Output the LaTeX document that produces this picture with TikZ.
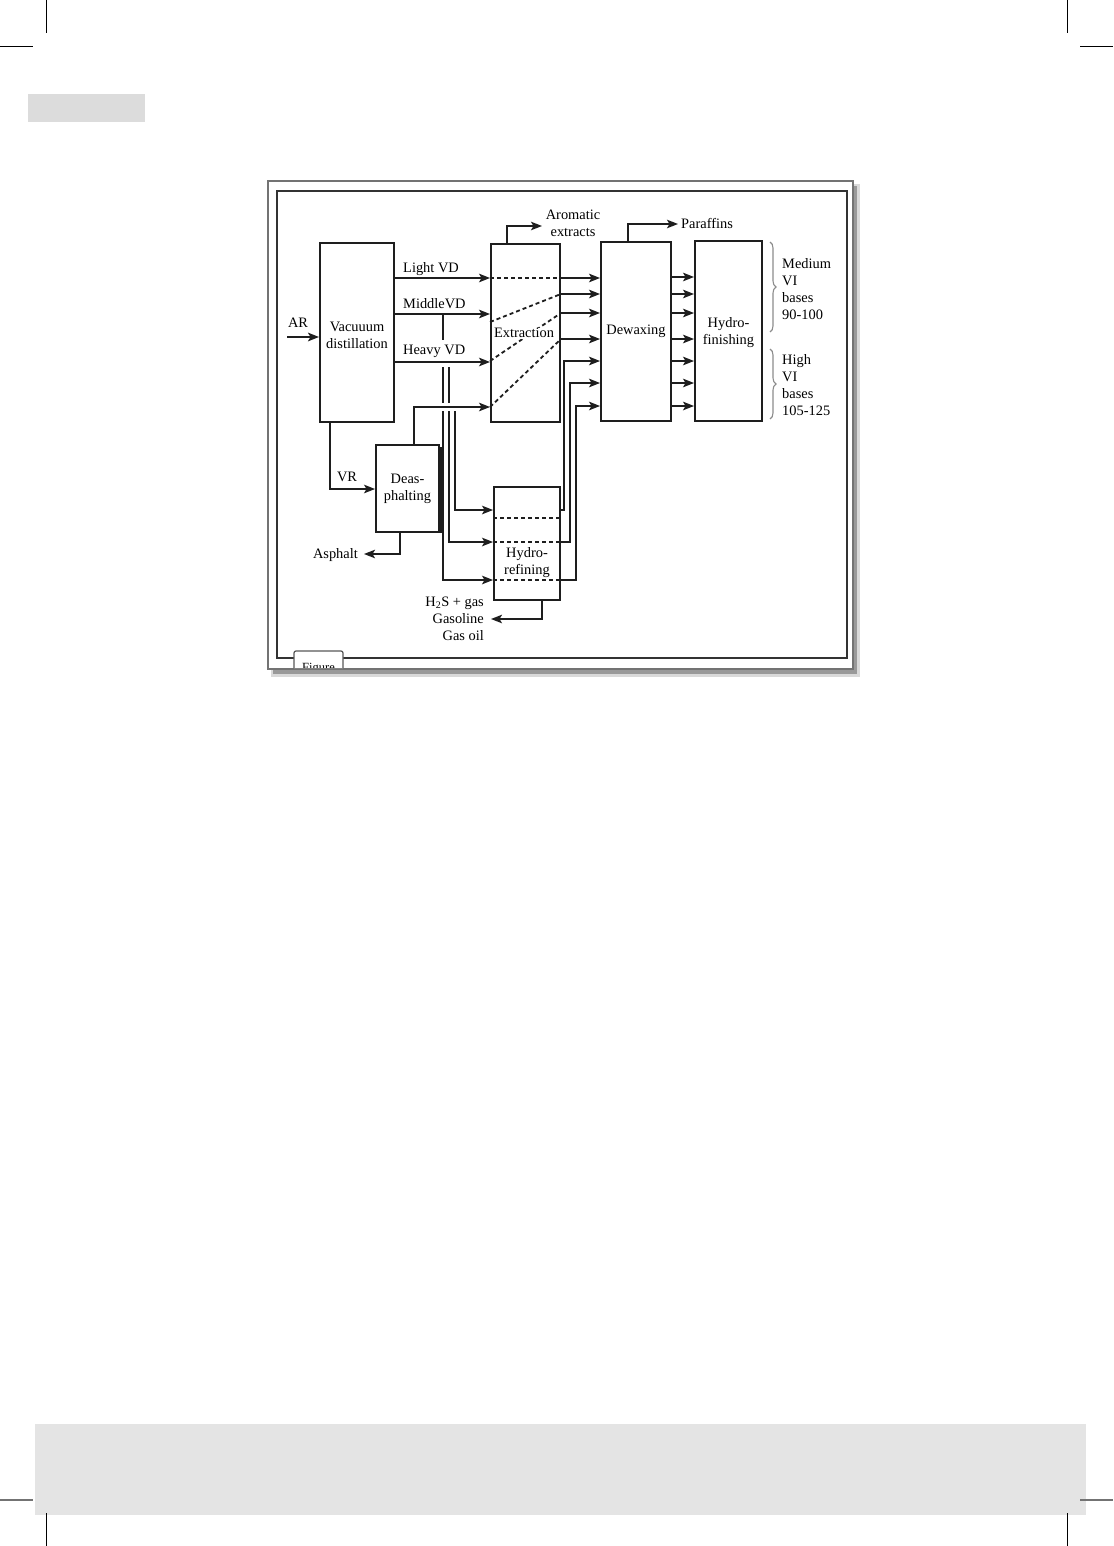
\documentclass[tikz,border=0pt]{standalone}
\usepackage{fontspec}
\setmainfont{Liberation Serif}
\usetikzlibrary{arrows.meta,decorations.pathreplacing,calc}
\newcommand\diagfont{\fontsize{14.4}{17}\selectfont}
\definecolor{topgray}{HTML}{DCDCDC}
\definecolor{bandgray}{HTML}{E4E4E4}
\definecolor{ink}{HTML}{1E1E1E}
\begin{document}
\begin{tikzpicture}[x=1pt,y=-1pt,
  box/.style={draw=ink, line width=1.9pt, fill=white, inner sep=0pt, align=center, font=\diagfont},
  arr/.style={line width=1.8pt, draw=ink, -{Stealth[length=11pt,width=8.5pt,inset=2.5pt]}},
  ln/.style={line width=1.8pt, draw=ink},
  dsh/.style={line width=1.8pt, draw=ink, dash pattern=on 4pt off 3pt},
  lbl/.style={font=\diagfont, inner sep=0pt, text height=9pt, text depth=0pt},
  mlbl/.style={font=\diagfont, inner sep=0pt},
  brc/.style={draw=black!45, line width=1.1pt, decorate, decoration={brace, amplitude=6pt}},
  crop/.style={draw=black, line width=0.9pt}
]
\useasboundingbox (0,0) rectangle (1113,1546);
\fill[white] (0,0) rectangle (1113,1546);
% page furniture
\fill[topgray] (28,94) rectangle (145,122);
\fill[bandgray] (35,1424) rectangle (1086,1515);
\draw[crop] (46,0) -- (46,33);
\draw[crop] (0,46) -- (33,46);
\draw[crop] (1067,0) -- (1067,33);
\draw[crop] (1080,46) -- (1113,46);
\draw[crop, draw=black!55, line width=1.6pt] (0,1500) -- (33,1500);
\draw[crop, draw=black!55, line width=1.6pt] (1080,1500) -- (1113,1500);
\draw[crop] (46,1513) -- (46,1546);
\draw[crop] (1067,1513) -- (1067,1546);
% frame with shadow
\fill[black!15] (271,184) rectangle (860,677);
\fill[black!40] (273,186) rectangle (857,674);
\draw[draw=black!55, line width=1.8pt, fill=white] (268,181) rectangle (853,669);
\draw[draw=black!80, line width=1.3pt] (277,191) rectangle (847,658);
\draw[draw=black!65, line width=1.2pt, fill=white, rounded corners=2pt] (294,668) -- (294,651) -- (343,651) -- (343,668);
\begin{scope}
\clip (295,652) rectangle (342,667.5);
\node[font=\fontsize{12.5}{14}\selectfont, inner sep=0pt, anchor=base] (fig) at (318.5,671) {Figure};
\end{scope}

% boxes
\node[box, minimum width=74pt, minimum height=179pt] (vd) at (357,332.5) {};
\node[mlbl, align=center] (vdt) at (357,335) {Vacuuum\\distillation};
\node[box, minimum width=69pt, minimum height=178pt] (ex) at (525.5,333) {};
\node[box, minimum width=70pt, minimum height=179pt] (dw) at (636,331.5) {Dewaxing};
\node[box, minimum width=67pt, minimum height=180pt] (hf) at (728.5,331) {};
\node[mlbl, align=center] (hft) at (728.5,333) {Hydro-\\finishing};
\node[box, minimum width=63pt, minimum height=87pt] (da) at (407.5,488.5) {};
\node[mlbl, align=center] (dat) at (407.5,489) {Deas-\\phalting};
\draw[line width=1.4pt, draw=ink] (440.8,447) -- (440.8,533);
\node[box, minimum width=66pt, minimum height=113pt] (hr) at (527,543.5) {};

% labels
\node[lbl] (ar) at (298,323) {AR};
\node[lbl, anchor=west] (lvd) at (403,268) {Light VD};
\node[lbl, anchor=west] (mvd) at (403,304) {MiddleVD};
\node[lbl, anchor=west] (hvd) at (403,350) {Heavy VD};
\node[lbl] (vr) at (347,477) {VR};
\node[lbl, anchor=east] (asph) at (358,554) {Asphalt};
\node[mlbl, align=center] (arom) at (573,223) {Aromatic\\extracts};
\node[lbl, anchor=west] (par) at (681,224) {Paraffins};
\node[mlbl, align=right, anchor=east] (gas) at (484,619) {H\textsubscript{2}S + gas\\Gasoline\\Gas oil};
\node[mlbl, anchor=west, align=left] (med) at (782,289) {Medium\\VI\\bases\\90-100};
\node[mlbl, anchor=west, align=left] (high) at (782,385) {High\\VI\\bases\\105-125};

% braces
\draw[brc] (770,242) -- (770,332);
\draw[brc] (770,349) -- (770,419);

% feed
\coordinate (arS) at (287,337);
\draw[arr, line width=2.8pt] (arS) -- (vd.west |- 0,337);

% distillates to extraction
\draw[arr] (vd.east |- 0,278) -- (ex.west |- 0,278);
\draw[arr] (vd.east |- 0,314) -- (ex.west |- 0,314);
\draw[arr] (vd.east |- 0,362) -- (ex.west |- 0,362);
\draw[arr] (da.north -| 414,0) |- (ex.west |- 0,407);

% VR, asphalt
\draw[arr] (vd.south -| 330,0) |- (da.west |- 0,489);
\draw[arr, shorten >=6pt] (da.south -| 400,0) |- (asph.east);

% aromatic extracts, paraffins
\coordinate (aromE) at (542,226);
\draw[arr] (ex.north -| 507,0) |- (aromE);
\draw[arr, shorten >=3pt] (dw.north -| 628,0) |- (par.west);

% dashed paths in extraction
\draw[dsh] (ex.west |- 0,278) -- (ex.east |- 0,278);
\draw[dsh] (ex.west |- 0,322) -- (ex.east |- 0,294);
\draw[dsh] (ex.west |- 0,361) -- (ex.east |- 0,313);
\draw[dsh] (ex.west |- 0,407) -- (ex.east |- 0,339);
\node[lbl, fill=white, inner sep=1pt] (ext) at (524,333) {Extraction};

% extraction to dewaxing
\foreach \yy in {278,294,313,339}
  \draw[arr] (ex.east |- 0,\yy) -- (dw.west |- 0,\yy);
% dewaxing to hydrofinishing
\foreach \yy in {277,294,313,339,361,383,406}
  \draw[arr] (dw.east |- 0,\yy) -- (hf.west |- 0,\yy);

% hydrorefining feeds
\draw[ln] (443,314) -- (443,340);
\draw[ln] (443,367) -- (443,403);
\draw[arr] (443,411) |- (hr.west |- 0,580);
\draw[ln] (449,367) -- (449,403);
\draw[arr] (449,411) |- (hr.west |- 0,542);
\draw[arr] (455,411) |- (hr.west |- 0,510);

% dashed in hydrorefining
\draw[dsh] (hr.west |- 0,518) -- (hr.east |- 0,518);
\draw[dsh] (hr.west |- 0,542) -- (hr.east |- 0,542);
\draw[dsh] (hr.west |- 0,580) -- (hr.east |- 0,580);
\node[mlbl, align=center] (hrt) at (527,563) {Hydro-\\refining};

% hydrorefining to dewaxing
\draw[arr] (hr.east |- 0,510) -- ++(3,0) |- (dw.west |- 0,361);
\draw[arr] (hr.east |- 0,542) -- (570,542) |- (dw.west |- 0,383);
\draw[arr] (hr.east |- 0,580) -- (576,580) |- (dw.west |- 0,406);

% hydrorefining by-products
\draw[arr, shorten >=7pt] (hr.south -| 542,0) |- (gas.east);
\end{tikzpicture}
\end{document}
